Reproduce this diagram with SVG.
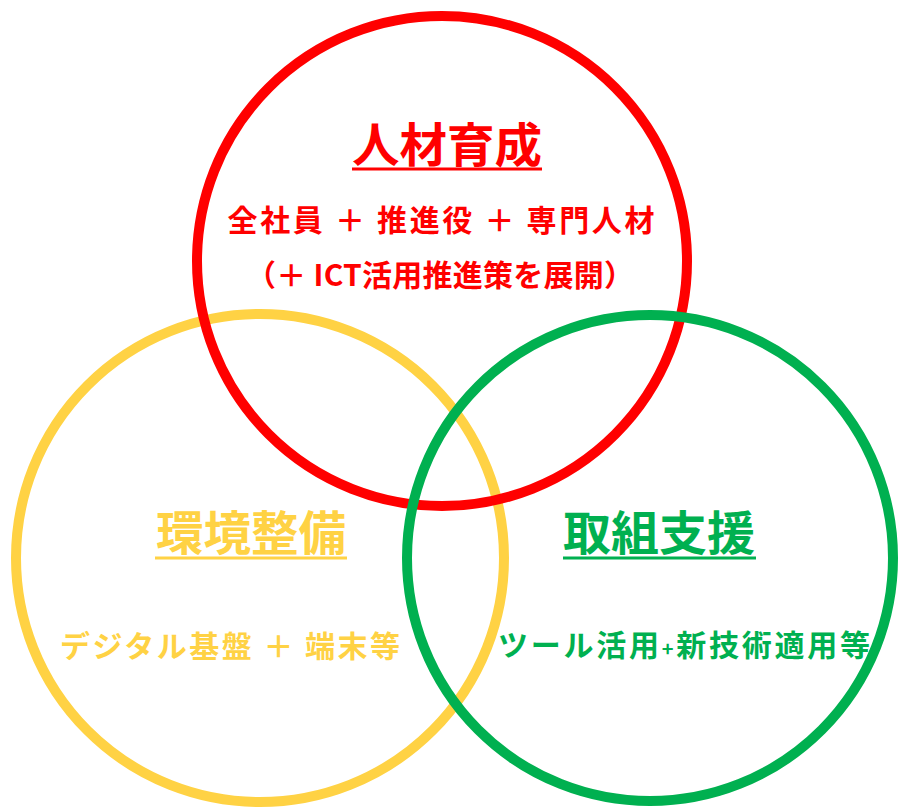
<svg xmlns="http://www.w3.org/2000/svg" width="899" height="808" viewBox="0 0 899 808">
<style>
.c{fill:none;stroke-width:10}
.t{font-family:"Noto Sans CJK JP","Noto Sans CJK SC",sans-serif;font-weight:bold;text-anchor:middle}
.h{font-size:47px}
.s{font-size:30px}
.r{fill:#FF0000}.y{fill:#FFD244}.g{fill:#00B050}
.ul{stroke-width:3}
</style>
<rect width="899" height="808" fill="#FFFFFF"/>
<g id="env">
<circle class="c" cx="260" cy="558" r="244" stroke="#FFD244"/>
<text class="t h y" x="251" y="550" textLength="190" lengthAdjust="spacingAndGlyphs">環境整備</text>
<line class="ul" x1="155" y1="558" x2="347" y2="558" stroke="#FFD244"/>
<text class="t s y" x="230" y="657" textLength="340" lengthAdjust="spacing">デジタル基盤 ＋ 端末等</text>
</g>
<g id="hr">
<circle class="c" cx="442" cy="261" r="245" stroke="#FF0000"/>
<text class="t h r" x="447" y="162" textLength="190" lengthAdjust="spacingAndGlyphs">人材育成</text>
<line class="ul" x1="352" y1="169" x2="542" y2="169" stroke="#FF0000"/>
<text class="t s r" x="441" y="231" textLength="427" lengthAdjust="spacing">全社員 ＋ 推進役 ＋ 専門人材</text>
<text class="t s r" x="440" y="286" textLength="388" lengthAdjust="spacing">（＋ ICT活用推進策を展開）</text>
</g>
<g id="support">
<circle class="c" cx="650" cy="558" r="243" stroke="#00B050"/>
<text class="t h g" x="659" y="550" textLength="192" lengthAdjust="spacingAndGlyphs">取組支援</text>
<line class="ul" x1="563" y1="558" x2="756" y2="558" stroke="#00B050"/>
<text class="t s g" x="684" y="656" textLength="372" lengthAdjust="spacing">ツール活用<tspan font-size="20px">+</tspan>新技術適用等</text>
</g>
</svg>
